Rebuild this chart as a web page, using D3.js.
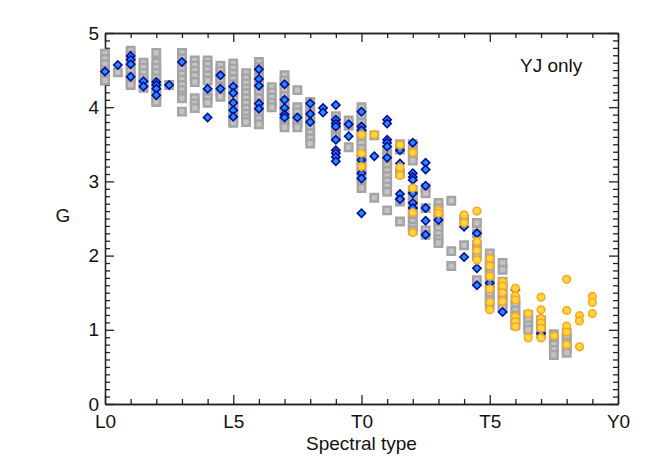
<!DOCTYPE html>
<html>
<head>
<meta charset="utf-8">
<script src="https://cdn.jsdelivr.net/npm/d3@7"></script>
<style>
body { margin: 0; background: #fff; }
text { font-family: "Liberation Sans", Arial, sans-serif; }
</style>
</head>
<body>
<div id="chart"></div>
<script>
// spectral type: L0 = 0, L5 = 5, T0 = 10, T5 = 15, Y0 = 20
var xTickValues = [0, 5, 10, 15, 20];
var xTickLabels = ["L0", "L5", "T0", "T5", "Y0"];
var yTickValues = [0, 1, 2, 3, 4, 5];

// full sample (grey squares), one entry per spectral type column
var greyCols = [
  [0, [4.72, 4.65, 4.58, 4.50, 4.43, 4.36]],
  [0.5, [4.47]],
  [1, [4.76, 4.70, 4.62, 4.55, 4.48, 4.41, 4.34, 4.30]],
  [1.5, [4.60, 4.53, 4.46, 4.39, 4.32, 4.26]],
  [2, [4.73, 4.60, 4.53, 4.46, 4.39, 4.32, 4.25, 4.18, 4.11, 4.07]],
  [2.5, [4.30]],
  [3, [4.73, 4.66, 4.58, 4.51, 4.44, 4.37, 4.30, 4.23, 4.16, 4.12, 3.94]],
  [3.5, [4.63, 4.56, 4.49, 4.42, 4.34, 4.12, 4.05, 3.99]],
  [4, [4.63, 4.57, 4.50, 4.43, 4.36, 4.19, 4.12, 4.06]],
  [4.5, [4.56, 4.49, 4.42, 4.35, 4.28, 4.21, 4.14]],
  [5, [4.59, 4.52, 4.45, 4.38, 4.31, 4.24, 4.17, 4.10, 4.03, 3.96, 3.89, 3.82, 3.79]],
  [5.5, [4.46, 4.39, 4.32, 4.25, 4.19, 4.12, 4.05, 3.98, 3.91, 3.85, 3.80]],
  [6, [4.61, 4.54, 4.47, 4.40, 4.33, 4.26, 4.19, 4.12, 4.05, 3.98, 3.91, 3.84, 3.77]],
  [6.5, [4.27, 4.20, 4.13, 4.06, 4.00]],
  [7, [4.43, 4.36, 4.29, 4.22, 4.15, 4.08, 4.01, 3.94, 3.87, 3.80, 3.73]],
  [7.5, [4.23, 4.00, 3.93, 3.86, 3.79, 3.73]],
  [8, [4.07, 4.00, 3.93, 3.86, 3.79, 3.72, 3.65, 3.58, 3.51]],
  [9, [3.88, 3.82, 3.76, 3.70, 3.64, 3.60]],
  [9.5, [3.82, 3.75, 3.46]],
  [10, [4.00, 3.93, 3.86, 3.79, 3.72, 3.65, 3.58, 3.51, 3.44, 3.37, 3.30, 3.23, 3.16, 3.09, 3.03, 2.91]],
  [10.5, [3.62, 2.78]],
  [11, [3.42, 3.35, 3.28, 3.21, 3.14, 3.07, 3.00, 2.93, 2.86, 2.61]],
  [11.5, [3.50, 3.43, 3.11, 2.73, 2.46]],
  [12, [3.50, 3.42, 3.35, 3.28, 2.88, 2.81, 2.74, 2.67, 2.60, 2.53, 2.46, 2.39, 2.34]],
  [12.5, [2.91, 2.84, 2.64, 2.34, 2.28]],
  [13, [2.71, 2.64, 2.57, 2.50, 2.43, 2.36, 2.29, 2.22, 2.17]],
  [13.5, [2.74, 2.06, 1.86]],
  [14, [2.48, 2.14]],
  [14.5, [2.44, 2.30, 2.14, 2.00, 1.67]],
  [15, [2.03, 1.96, 1.89, 1.82, 1.75, 1.68, 1.61, 1.54, 1.47, 1.40, 1.33]],
  [15.5, [1.90, 1.81, 1.65, 1.58, 1.51, 1.44, 1.37, 1.30]],
  [16, [1.40, 1.33, 1.26, 1.19, 1.12, 1.06]],
  [16.5, [1.20, 1.13, 1.06, 1.00]],
  [17, [1.13, 1.06, 0.99, 0.95]],
  [17.5, [0.94, 0.87, 0.80, 0.73, 0.66]],
  [18, [0.96, 0.89, 0.82, 0.75, 0.69]]
];

// blue diamonds
var blueCols = [
  [0, [4.48]],
  [0.5, [4.57]],
  [1, [4.69, 4.64, 4.58, 4.41]],
  [1.5, [4.35, 4.28]],
  [2, [4.34, 4.30, 4.25, 4.16]],
  [2.5, [4.30]],
  [3, [4.61]],
  [4, [4.25, 3.86]],
  [4.5, [4.43, 4.25]],
  [5, [4.28, 4.19, 4.06, 3.96, 3.87]],
  [6, [4.51, 4.38, 4.29, 4.05, 3.98]],
  [7, [4.31, 4.10, 3.99, 3.90, 3.86]],
  [7.5, [3.86]],
  [8, [4.05, 3.91, 3.80]],
  [8.5, [3.99, 3.93]],
  [9, [4.03, 3.83, 3.78, 3.74, 3.56, 3.42, 3.38, 3.33, 3.27]],
  [9.5, [3.77, 3.61]],
  [10, [3.94, 3.74, 3.69, 3.29, 3.11, 3.04, 2.57]],
  [10.5, [3.34]],
  [11, [3.83, 3.78, 3.56, 3.52, 3.47, 3.32]],
  [11.5, [3.42, 3.24, 2.83, 2.76]],
  [12, [3.52, 3.11, 3.06, 3.02, 2.84, 2.71, 2.64]],
  [12.5, [3.25, 3.16, 2.94, 2.64, 2.47, 2.28]],
  [13, [2.48]],
  [14, [2.39, 1.98]],
  [14.5, [2.30, 1.83, 1.60]],
  [15, [1.63]],
  [15.5, [1.24]],
  [16, [1.54]],
  [17, [0.95]]
];

// orange circles
var orangeCols = [
  [10, [3.63, 3.38, 3.20]],
  [10.5, [3.63]],
  [11.5, [3.49, 3.19, 3.08]],
  [12, [3.39, 2.91, 2.58, 2.31]],
  [13, [2.61, 2.57]],
  [14, [2.55, 2.44]],
  [14.5, [2.60, 2.19, 2.07, 1.94]],
  [15, [1.96, 1.86, 1.72, 1.55, 1.37, 1.27]],
  [15.5, [1.65, 1.59, 1.50, 1.38]],
  [16, [1.56, 1.46, 1.40, 1.18, 1.11, 1.04]],
  [16.5, [1.22, 0.89]],
  [17, [1.44, 1.27, 1.15, 1.09, 1.02, 0.89]],
  [17.5, [0.92]],
  [18, [1.68, 1.26, 1.05, 0.97, 0.80]],
  [18.5, [1.19, 1.12, 0.77]],
  [19, [1.45, 1.37, 1.22]]
];

function flatten(cols) {
  var out = [];
  cols.forEach(function(c) {
    c[1].forEach(function(g) { out.push({ sp: c[0], g: g }); });
  });
  return out;
}

var svgWidth = 648;
var svgHeight = 471;

var margin = { top: 33, right: 30, bottom: 67, left: 105 };
var chartWidth = svgWidth - margin.left - margin.right;
var chartHeight = svgHeight - margin.top - margin.bottom;

var svg = d3.select("#chart").append("svg")
  .attr("width", svgWidth)
  .attr("height", svgHeight);

var chartGroup = svg.append("g")
  .attr("transform", `translate(${margin.left}, ${margin.top})`);

var xScale = d3.scaleLinear().domain([0, 20]).range([0, chartWidth]);
var yScale = d3.scaleLinear().domain([0, 5]).range([chartHeight, 0]);

var xMinor = d3.range(0, 21).filter(function(v) { return v % 5 !== 0; });
var yMinor = d3.range(0, 51).filter(function(v) { return v % 10 !== 0; }).map(function(v) { return v / 10; });

var major = 9, minor = 5;

// minor ticks on all four sides
function minorAxis(axisFn, scale, vals, tr) {
  chartGroup.append("g")
    .attr("class", "axis")
    .attr("transform", tr)
    .call(axisFn(scale).tickValues(vals).tickSize(-minor).tickSizeOuter(0).tickFormat(""));
}
minorAxis(d3.axisBottom, xScale, xMinor, `translate(0,${chartHeight})`);
minorAxis(d3.axisTop, xScale, xMinor, "translate(0,0)");
minorAxis(d3.axisLeft, yScale, yMinor, "translate(0,0)");
minorAxis(d3.axisRight, yScale, yMinor, `translate(${chartWidth},0)`);

// major ticks
chartGroup.append("g")
  .attr("class", "axis")
  .attr("transform", `translate(0,${chartHeight})`)
  .call(d3.axisBottom(xScale).tickValues(xTickValues).tickSize(-major).tickSizeOuter(0)
    .tickPadding(11).tickFormat(function(d, i) { return xTickLabels[i]; }));
chartGroup.append("g")
  .attr("class", "axis")
  .call(d3.axisTop(xScale).tickValues(xTickValues).tickSize(-major).tickSizeOuter(0).tickFormat(""));
chartGroup.append("g")
  .attr("class", "axis")
  .call(d3.axisLeft(yScale).tickValues(yTickValues).tickSize(-major).tickSizeOuter(0)
    .tickPadding(6).tickFormat(d3.format("d")));
chartGroup.append("g")
  .attr("class", "axis")
  .attr("transform", `translate(${chartWidth},0)`)
  .call(d3.axisRight(yScale).tickValues(yTickValues).tickSize(-major).tickSizeOuter(0).tickFormat(""));

svg.selectAll(".axis path, .axis line")
  .attr("stroke", "#222")
  .attr("stroke-width", 1.3);
svg.selectAll(".axis text")
  .attr("font-size", 19)
  .attr("fill", "#111")
  .style("font-family", "'Liberation Sans', Arial, sans-serif");

// points
var points = chartGroup.append("g");

points.selectAll(".grey")
    .data(flatten(greyCols))
  .enter().append("path")
    .attr("class", "grey")
    .attr("d", d3.symbol(d3.symbolSquare, 56))
    .attr("transform", function(d) { return `translate(${xScale(d.sp)},${yScale(d.g)})`; })
    .attr("fill", "#c4c4c4")
    .attr("stroke", "#a4a4a4")
    .attr("stroke-width", 2.4);

points.selectAll(".blue")
    .data(flatten(blueCols))
  .enter().append("path")
    .attr("class", "blue")
    .attr("d", d3.symbol(d3.symbolSquare, 34))
    .attr("transform", function(d) { return `translate(${xScale(d.sp)},${yScale(d.g)}) rotate(45)`; })
    .attr("fill", "#1e90ff")
    .attr("stroke", "#0a0a96")
    .attr("stroke-width", 1.6);

points.selectAll(".orange")
    .data(flatten(orangeCols))
  .enter().append("circle")
    .attr("class", "orange")
    .attr("r", 3.8)
    .attr("cx", function(d) { return xScale(d.sp); })
    .attr("cy", function(d) { return yScale(d.g); })
    .attr("fill", "#ffd840")
    .attr("stroke", "#ffa520")
    .attr("stroke-width", 1.6);

// titles
svg.append("text")
  .attr("x", margin.left + chartWidth / 2)
  .attr("y", 450)
  .attr("text-anchor", "middle")
  .attr("font-size", 19)
  .attr("fill", "#111")
  .text("Spectral type");

svg.append("text")
  .attr("x", 63)
  .attr("y", 222)
  .attr("text-anchor", "middle")
  .attr("font-size", 19)
  .attr("fill", "#111")
  .text("G");

svg.append("text")
  .attr("x", 520)
  .attr("y", 72)
  .attr("font-size", 19)
  .attr("fill", "#111")
  .text("YJ only");
</script>
</body>
</html>
